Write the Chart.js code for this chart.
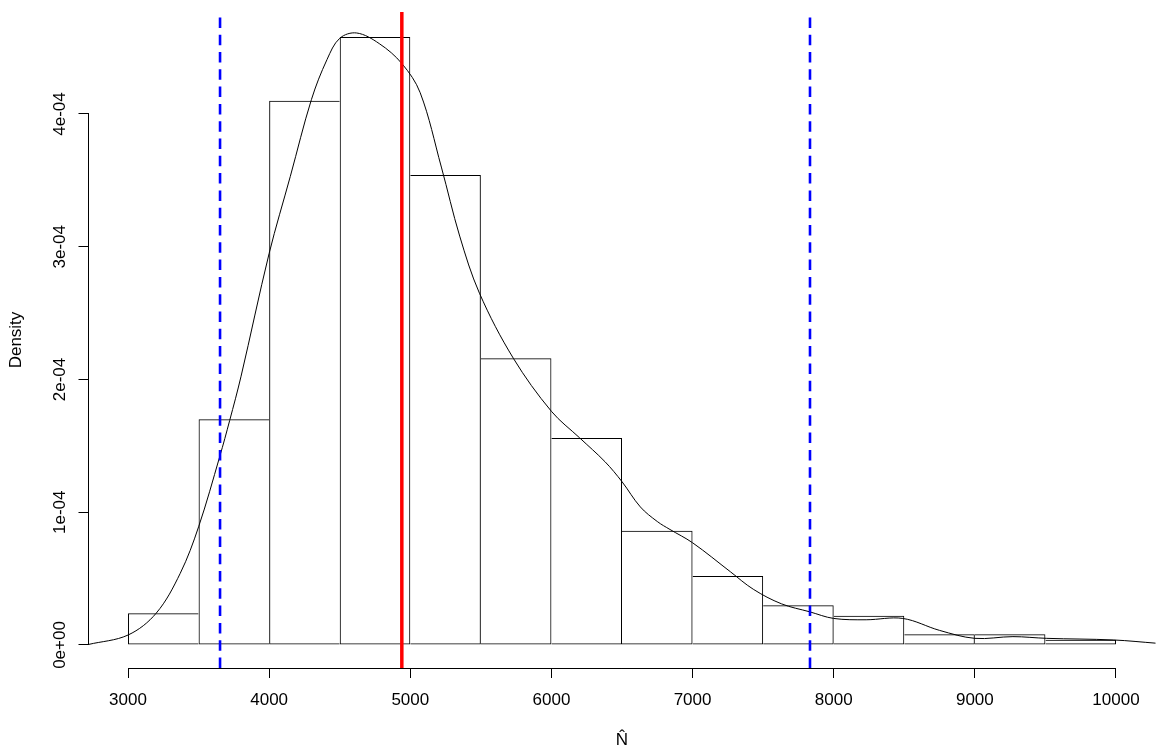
<!DOCTYPE html>
<html>
<head>
<meta charset="utf-8">
<script src="https://cdn.jsdelivr.net/npm/chart.js@4"></script>
<style>
html,body{margin:0;padding:0;background:#fff;}
canvas{display:block;}
</style>
</head>
<body>
<canvas id="c" width="1157" height="749"></canvas>
<script>
// ---- data ----
const breaks = [3000,3500,4000,4500,5000,5500,6000,6500,7000,7500,8000,8500,9000,9500,10000];
const densities = [2.4e-5,1.70e-4,4.10e-4,4.58e-4,3.54e-4,2.16e-4,1.56e-4,8.6e-5,5.2e-5,3.0e-5,2.2e-5,8e-6,8e-6,4e-6];
const kdeX = [2720,3000,3200,3370,3500,3650,3720,3800,4000,4150,4300,4410,4500,4620,4780,4940,5070,5220,5350,5490,5730,6000,6200,6380,6500,6630,6750,6840,7000,7270,7430,7630,7830,8000,8230,8490,8750,9000,9270,9510,9980,10290];
const kdeY = [0.04e-5,0.75e-5,2.4e-5,5.4e-5,8.9e-5,1.42e-4,1.69e-4,2.02e-4,2.95e-4,3.53e-4,4.11e-4,4.41e-4,4.57e-4,4.61e-4,4.53e-4,4.38e-4,4.16e-4,3.60e-4,3.08e-4,2.65e-4,2.16e-4,1.76e-4,1.56e-4,1.38e-4,1.23e-4,1.04e-4,0.93e-4,0.87e-4,0.77e-4,0.55e-4,0.42e-4,0.31e-4,0.25e-4,0.20e-4,0.19e-4,0.20e-4,0.11e-4,0.05e-4,0.063e-4,0.05e-4,0.038e-4,0.013e-4];
const ciLower = 3652;
const ciUpper = 7832;
const estimate = 4940;
const xTicks = [3000,4000,5000,6000,7000,8000,9000,10000];
const xTickLabels = ["3000","4000","5000","6000","7000","8000","9000","10000"];
const yTicks = [0,1e-4,2e-4,3e-4,4e-4];
const yTickLabels = ["0e+00","1e-04","2e-04","3e-04","4e-04"];
const xRange = [2720, 10280];
const yRange = [-1.733e-5, 4.768e-4];
const xTitle = "N\u0302";
const yTitle = "Density";

const FONT = "'Liberation Sans', Arial, Helvetica, sans-serif";

const barData = densities.map((d,i)=>({x:(breaks[i]+breaks[i+1])/2, y:d}));
const kdeData = kdeX.map((x,i)=>({x:x, y:kdeY[i]}));
const vline = v => [{x:v,y:yRange[0]},{x:v,y:yRange[1]}];

const rAxes = {
  id:'rAxes',
  afterDraw(chart){
    const ctx = chart.ctx, xs = chart.scales.x, ys = chart.scales.y, ca = chart.chartArea;
    ctx.save();
    ctx.strokeStyle = '#000';
    ctx.lineWidth = 1;
    ctx.beginPath();
    const yb = Math.round(ca.bottom) + 0.5;
    ctx.moveTo(xs.getPixelForValue(xTicks[0]), yb);
    ctx.lineTo(xs.getPixelForValue(xTicks[xTicks.length-1]), yb);
    const xl = Math.floor(ca.left) + 0.5;
    ctx.moveTo(xl, ys.getPixelForValue(yTicks[0]));
    ctx.lineTo(xl, ys.getPixelForValue(yTicks[yTicks.length-1]));
    ctx.stroke();
    ctx.fillStyle = '#000';
    ctx.font = '17px ' + FONT;
    ctx.textAlign = 'center';
    ctx.textBaseline = 'alphabetic';
    yTicks.forEach((v,i)=>{
      ctx.save();
      ctx.translate(65, ys.getPixelForValue(v));
      ctx.rotate(-Math.PI/2);
      ctx.fillText(yTickLabels[i], 0, 0);
      ctx.restore();
    });
    ctx.restore();
  }
};

new Chart(document.getElementById('c'), {
  type: 'bar',
  data: {
    datasets: [
      {
        type:'line', data: vline(estimate), borderColor:'#ff0000', borderWidth:3.5,
        pointRadius:0, fill:false, order:1
      },
      {
        type:'line', data: vline(ciLower), borderColor:'#0000ff', borderWidth:2.6,
        borderDash:[10.5,6.8], pointRadius:0, fill:false, order:2
      },
      {
        type:'line', data: vline(ciUpper), borderColor:'#0000ff', borderWidth:2.6,
        borderDash:[10.5,6.8], pointRadius:0, fill:false, order:2
      },
      {
        type:'line', data: kdeData, borderColor:'#000', borderWidth:1,
        pointRadius:0, fill:false, tension:0.35, order:3
      },
      {
        type:'bar', data: barData,
        backgroundColor:'rgba(0,0,0,0)', borderColor:'#000',
        borderSkipped:false, inflateAmount:0,
        borderWidth: ctx => {
          const i = ctx.dataIndex, h = densities, n = h.length;
          return {
            top:1, bottom:1,
            left: (i===0 || h[i] > h[i-1]) ? 1 : 0,
            right: (i===n-1 || h[i] >= h[i+1]) ? 1 : 0
          };
        },
        barPercentage:1, categoryPercentage:1, grouped:false, order:4
      }
    ]
  },
  options: {
    responsive:false,
    animation:false,
    devicePixelRatio:1,
    layout:{padding:{top:12,right:1.5,left:0,bottom:0}},
    plugins:{legend:{display:false}, tooltip:{enabled:false}},
    scales:{
      x:{
        type:'linear', min:xRange[0], max:xRange[1], offset:false,
        afterBuildTicks: s => { s.ticks = xTicks.map(v=>({value:v})); },
        afterFit: s => { s.height = 81; },
        grid:{offset:false, drawOnChartArea:false, drawTicks:true, tickLength:10, color:'#000', lineWidth:1},
        border:{display:false},
        ticks:{
          color:'#000', font:{family:FONT, size:17}, padding:12, maxRotation:0, minRotation:0,
          autoSkip:false,
          callback: (v) => { const k = xTicks.indexOf(v); return k>=0 ? xTickLabels[k] : ''; }
        },
        title:{display:true, text:xTitle, color:'#000', font:{family:FONT, size:17, lineHeight:1}, padding:{top:0,bottom:0}}
      },
      y:{
        type:'linear', min:yRange[0], max:yRange[1],
        afterBuildTicks: s => { s.ticks = yTicks.map(v=>({value:v})); },
        afterFit: s => { s.width = 88.5; },
        grid:{offset:false, drawOnChartArea:false, drawTicks:true, tickLength:10, color:'#000', lineWidth:1},
        border:{display:false},
        ticks:{display:false},
        title:{display:true, text:yTitle, color:'#000', font:{family:FONT, size:17, lineHeight:1}, padding:{top:7.5,bottom:0}}
      }
    }
  },
  plugins:[rAxes]
});
</script>
</body>
</html>
